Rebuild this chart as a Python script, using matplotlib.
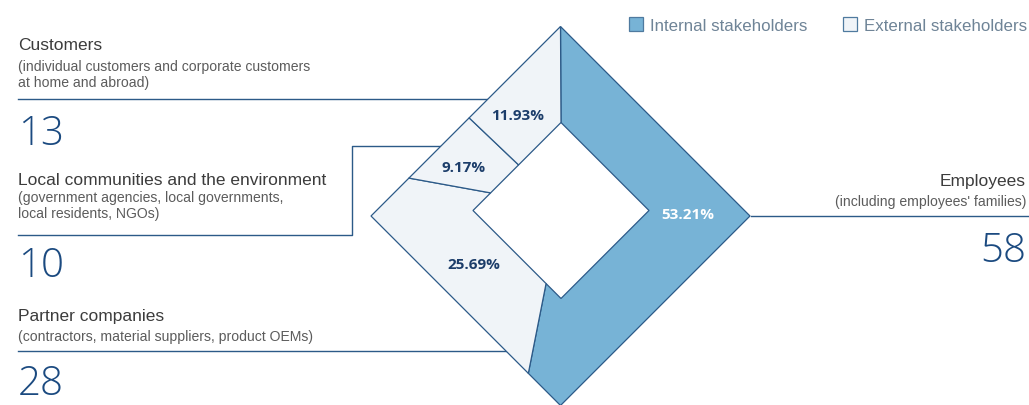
import numpy as np
import matplotlib.pyplot as plt
from matplotlib.patches import Polygon, Rectangle

# data, clockwise from the top of the diamond
groups = ["Employees", "Partner companies", "Local communities and the environment", "Customers"]
shares = [53.21, 25.69, 9.17, 11.93]
counts = [58, 28, 10, 13]
internal = [True, False, False, False]
share_labels = ["53.21%", "25.69%", "9.17%", "11.93%"]
notes = [
    ["(including employees' families)"],
    ["(contractors, material suppliers, product OEMs)"],
    ["(government agencies, local governments,", "local residents, NGOs)"],
    ["(individual customers and corporate customers", "at home and abroad)"],
]

IN_COLOR = "#77b3d6"
EX_COLOR = "#f0f4f8"
EDGE = "#2c5a88"
NAVY = "#1b4a80"
TITLE = "#3c3c3c"
NOTE = "#5c5c5c"
LEGEND = "#6f8497"

W, H = 1029, 406
fig = plt.figure(figsize=(W / 100, H / 100), dpi=100)
ax = fig.add_axes([0, 0, 1, 1])
ax.set_xlim(0, W)
ax.set_ylim(H, 0)
ax.axis("off")

# diamond = L1 circle in pixel space
OUT_C, OUT_R = (560.5, 217.0), 189.5
IN_C, IN_R = (561.0, 211.5), 88.0


def point(c, r, ang):
    a = np.radians(ang)
    dx, dy = np.sin(a), -np.cos(a)
    s = r / (abs(dx) + abs(dy))
    return c[0] + dx * s, c[1] + dy * s


def ring(c, r, a0, a1):
    angs = [a0] + [v for v in range(0, 721, 90) if a0 < v < a1] + [a1]
    return [point(c, r, a) for a in angs]


edges = np.cumsum([0] + shares) / 100 * 360
for i in range(len(shares)):
    a0, a1 = edges[i], edges[i + 1]
    pts = ring(OUT_C, OUT_R, a0, a1) + ring(IN_C, IN_R, a0, a1)[::-1]
    ax.add_patch(Polygon(pts, closed=True, facecolor=IN_COLOR if internal[i] else EX_COLOR,
                         edgecolor=EDGE, linewidth=0.9, joinstyle="miter"))

label_pos = [(688, 215), (474, 265), (464, 168), (518, 116)]
for i, (x, y) in enumerate(label_pos):
    ax.text(x, y, share_labels[i], ha="center", va="center", fontsize=11,
            fontweight="bold", family="Open Sans",
            color="white" if internal[i] else "#1c3d6a")

# leader lines
lw = 1.0
ax.plot([751, W], [217, 217], color=EDGE, lw=lw)
ax.plot([18, 506], [352, 352], color=EDGE, lw=lw, zorder=0)
ax.plot([18, 352, 352, 441], [236, 236, 147, 147], color=EDGE, lw=lw, zorder=0)
ax.plot([18, 488], [100, 100], color=EDGE, lw=lw, zorder=0)

# left side texts: customers, local, partner
left = [(3, 50, 71, 145), (2, 185, 202, 277), (1, 321, 341, 395)]
for i, ty, ny, cy in left:
    ax.text(18, ty, groups[i], ha="left", va="baseline", fontsize=12.5,
            family="Liberation Sans", color=TITLE)
    for k, line in enumerate(notes[i]):
        ax.text(18, ny + 16.5 * k, line, ha="left", va="baseline", fontsize=10.1,
                family="Liberation Sans", color=NOTE)
    ax.text(18, cy, str(counts[i]), ha="left", va="baseline", fontsize=29,
            family="Open Sans", fontweight="light", color=NAVY)

ax.text(1026, 186, groups[0], ha="right", va="baseline", fontsize=12.5,
        family="Liberation Sans", color=TITLE)
ax.text(1026, 206, notes[0][0], ha="right", va="baseline", fontsize=10.1,
        family="Liberation Sans", color=NOTE)
ax.text(1026, 262, str(counts[0]), ha="right", va="baseline", fontsize=29,
        family="Open Sans", fontweight="light", color=NAVY)

# legend
for x, fc, txt in [(629, IN_COLOR, "Internal stakeholders"), (843, EX_COLOR, "External stakeholders")]:
    ax.add_patch(Rectangle((x, 17.5), 14, 14, facecolor=fc, edgecolor="#4f7a9f", lw=0.9))
    ax.text(x + 21, 31, txt, ha="left", va="baseline", fontsize=12.2,
            family="Liberation Sans", color=LEGEND)

fig.savefig("out.png", dpi=100)
